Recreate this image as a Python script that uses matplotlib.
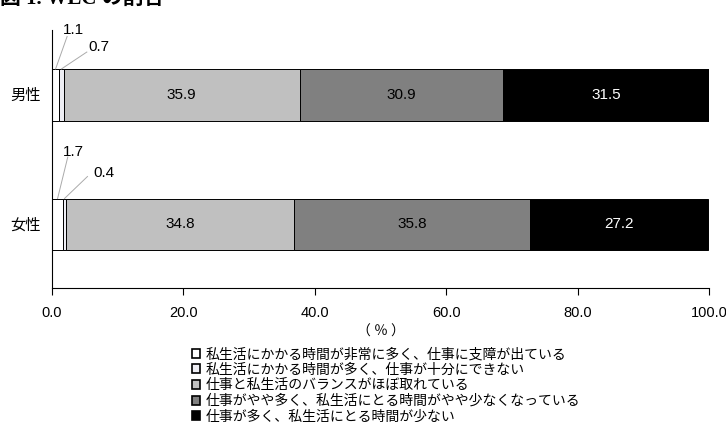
import matplotlib
matplotlib.use("Agg")
import matplotlib.pyplot as plt
from matplotlib.patches import Patch

plt.rcParams['font.family'] = ['Liberation Sans', 'Noto Sans CJK JP']

categories = ['男性', '女性']
series_labels = [
    '私生活にかかる時間が非常に多く、仕事に支障が出ている',
    '私生活にかかる時間が多く、仕事が十分にできない',
    '仕事と私生活のバランスがほぼ取れている',
    '仕事がやや多く、私生活にとる時間がやや少なくなっている',
    '仕事が多く、私生活にとる時間が少ない',
]
values = [
    [1.1, 1.7],
    [0.7, 0.4],
    [35.9, 34.8],
    [30.9, 35.8],
    [31.5, 27.2],
]
colors = ['#ffffff', '#eeeef4', '#c0c0c0', '#808080', '#000000']
text_colors = [None, None, '#000000', '#000000', '#ffffff']
xticks = [0, 20, 40, 60, 80, 100]

fig = plt.figure(figsize=(7.26, 4.22), dpi=100)
ax = fig.add_axes([52/726, 1-288/422, (709-52)/726, (288-30)/422])

ypos = [1, 0]
bar_h = 0.4
left = [0.0, 0.0]
for i, (lab, vals) in enumerate(zip(series_labels, values)):
    ax.barh(ypos, vals, left=left, height=bar_h, color=colors[i],
            edgecolor='#000000', linewidth=0.7, label=lab)
    if text_colors[i] is not None:
        for y, l, v in zip(ypos, left, vals):
            ax.text(l + v/2, y, f'{v:.1f}', ha='center', va='center',
                    fontsize=11, color=text_colors[i])
    left = [a + b for a, b in zip(left, vals)]

# small-value callouts: (value, segment start, bar y, line end, text pos)
small = [
    (values[0][0], 0.0, ypos[0], (2.3, 1.45), (1.7, 1.50)),
    (values[1][0], values[0][0], ypos[0], (5.3, 1.33), (5.6, 1.37)),
    (values[0][1], 0.0, ypos[1], (2.4, 0.52), (1.7, 0.56)),
    (values[1][1], values[0][1], ypos[1], (5.4, 0.37), (6.3, 0.40)),
]
for v, l, y, (lx, ly), (tx, ty) in small:
    ax.plot([l + v/2, lx], [y + bar_h/2, ly], color='#aaaaaa', lw=0.7,
            clip_on=False, zorder=3)
    ax.text(tx, ty, f'{v:.1f}', fontsize=11, ha='left', va='center',
            clip_on=False)

ax.set_xlim(0, 100)
ax.set_ylim(-0.49, 1.5)
ax.set_xticks(xticks)
ax.set_xticklabels([f'{t:.1f}' for t in xticks], fontsize=10.5)
ax.set_yticks(ypos)
ax.set_yticklabels(categories, fontsize=11)
ax.tick_params(axis='y', length=0, pad=8)
ax.tick_params(axis='x', length=5, direction='out', pad=8)
ax.spines['top'].set_visible(False)
ax.spines['right'].set_visible(False)
ax.set_xlabel('（ ％ ）', fontsize=10, labelpad=3, family=['Noto Sans CJK JP'])

handles = [Patch(facecolor=c, edgecolor='#000000', linewidth=1.2) for c in colors]
fig.legend(handles, series_labels, loc='upper left',
           bbox_to_anchor=(192/726, 1-347/422), frameon=False, fontsize=10,
           handlelength=0.6, handleheight=0.6, handletextpad=0.35,
           labelspacing=0.12, borderaxespad=0, borderpad=0)

fig.text(0.0, 1-(-1)/422, '図 1. WLC の割合', fontsize=15, fontweight='bold',
         ha='left', va='center', family=['Liberation Serif', 'Noto Sans CJK JP'])

fig.savefig('out.png', dpi=100)
